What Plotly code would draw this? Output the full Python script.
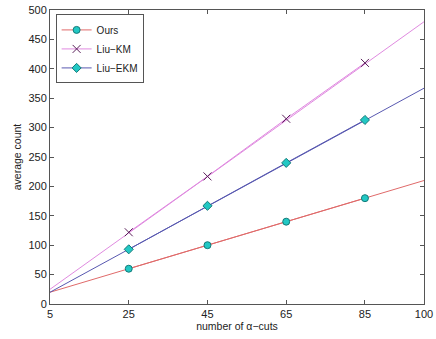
import plotly.graph_objects as go

x_full = [5, 100]
x_marks = [25, 45, 65, 85]
ours_full = [20, 210]
ours_marks = [60, 100, 140, 180]
km_full = [25, 480]
km_marks = [122, 217, 315, 410]
ekm_full = [20, 367]
ekm_marks = [93, 167, 240, 313]
x_ticks = [5, 25, 45, 65, 85, 100]
y_ticks = list(range(0, 501, 50))

fig = go.Figure()
series = [
    ("Ours", ours_full, ours_marks, "#e06a6a", "circle", "#22c8c4", "#137a78", 7),
    ("Liu\u2212KM", km_full, km_marks, "#e08ae0", "x-thin", "#5a205a", "#5a205a", 8),
    ("Liu\u2212EKM", ekm_full, ekm_marks, "#5858b0", "diamond", "#22c8c4", "#137a78", 7),
]
for name, full, marks, lc, sym, mc, ec, ms in series:
    fig.add_trace(go.Scatter(x=x_full, y=full, mode="lines", line=dict(color=lc, width=1),
                             showlegend=False, hoverinfo="skip"))
for name, full, marks, lc, sym, mc, ec, ms in series:
    fig.add_trace(go.Scatter(x=x_marks, y=marks, mode="lines+markers", name=name,
                             line=dict(color=lc, width=1),
                             marker=dict(symbol=sym, color=mc, size=ms,
                                         line=dict(color=ec, width=1))))

axis_common = dict(showgrid=False, zeroline=False, showline=True, linecolor="#555",
                   linewidth=1, mirror="ticks", ticks="inside", ticklen=4,
                   tickcolor="#555", tickfont=dict(size=11, color="#222"),
                   automargin=False, ticklabeloverflow="allow")
fig.update_xaxes(range=[5, 100], tickvals=x_ticks, **axis_common,
                 title=dict(text="number of \u03b1\u2212cuts", font=dict(size=10.5, color="#222"), standoff=3))
fig.update_yaxes(range=[0, 500], tickvals=y_ticks, **axis_common,
                 title=dict(text="average count", font=dict(size=10.5, color="#222"), standoff=4))
fig.update_layout(width=436, height=339, margin=dict(l=50, r=12, t=10, b=35),
                  plot_bgcolor="white", paper_bgcolor="white",
                  font=dict(family="Liberation Sans, Arial, sans-serif", size=11, color="#222"),
                  legend=dict(x=0.015, y=0.985, xanchor="left", yanchor="top",
                              bordercolor="#555", borderwidth=1, bgcolor="white",
                              font=dict(size=10), tracegroupgap=0, itemwidth=30))
fig.write_html("out.html", config={"displayModeBar": False},
               post_script="document.body.style.margin='0';document.body.style.overflow='hidden';")
